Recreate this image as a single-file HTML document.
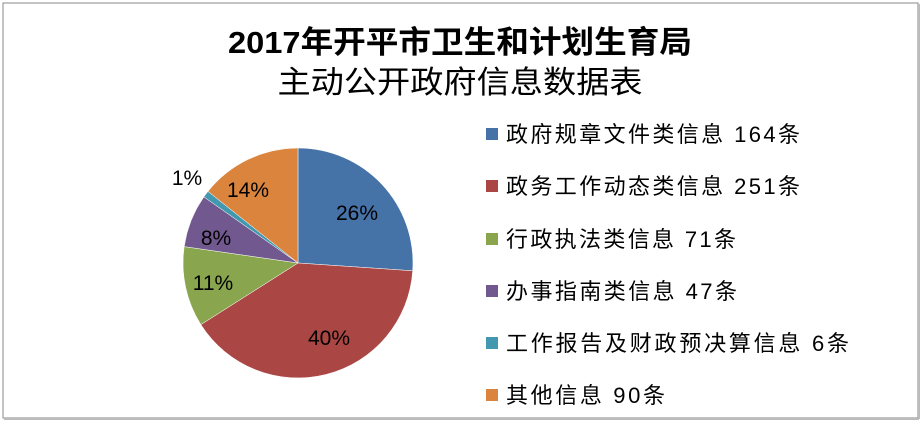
<!DOCTYPE html>
<html><head><meta charset="utf-8"><style>
body{margin:0;background:#fff;}
svg text{font-family:"Liberation Sans","Noto Sans CJK SC",sans-serif;}
</style></head><body>
<svg width="921" height="421" xmlns="http://www.w3.org/2000/svg">
<rect x="0" y="0" width="921" height="421" fill="#fff"/>
<rect x="3" y="3" width="915" height="415" fill="#fff" stroke="#888" stroke-width="1"/>
<line x1="4" y1="419" x2="919" y2="419" stroke="#bbb" stroke-width="2"/>
<line x1="919" y1="4" x2="919" y2="419" stroke="#bbb" stroke-width="2"/>
<text x="460" y="53" text-anchor="middle" font-size="31" font-weight="bold" fill="#000" textLength="464" lengthAdjust="spacingAndGlyphs">2017年开平市卫生和计划生育局</text>
<text x="460" y="93" text-anchor="middle" font-size="31" fill="#000" textLength="365" lengthAdjust="spacingAndGlyphs">主动公开政府信息数据表</text>
<g stroke="#fff" stroke-width="0.5">
<path d="M298,263 L298,148 A115,115 0 0 1 412.7,270.8 Z" fill="#4572A7"/>
<path d="M298,263 L412.7,270.8 A115,115 0 0 1 200.9,324.6 Z" fill="#AA4643"/>
<path d="M298,263 L200.9,324.6 A115,115 0 0 1 184.2,246.6 Z" fill="#89A54E"/>
<path d="M298,263 L184.2,246.6 A115,115 0 0 1 203.9,196.9 Z" fill="#71588F"/>
<path d="M298,263 L203.9,196.9 A115,115 0 0 1 208.0,191.4 Z" fill="#4198AF"/>
<path d="M298,263 L208.0,191.4 A115,115 0 0 1 298,148 Z" fill="#DB843D"/>
</g>
<g font-size="21" fill="#000" text-anchor="middle">
<text x="357" y="220">26%</text>
<text x="329" y="345">40%</text>
<text x="213" y="290">11%</text>
<text x="216" y="245">8%</text>
<text x="187" y="185">1%</text>
<text x="248" y="197">14%</text>
</g>
<g font-size="22" fill="#000" lengthAdjust="spacingAndGlyphs">
<rect x="486" y="128" width="12" height="12" fill="#4572A7"/><text x="506" y="142" textLength="294">政府规章文件类信息 164条</text>
<rect x="486" y="180" width="12" height="12" fill="#AA4643"/><text x="506" y="194" textLength="294">政务工作动态类信息 251条</text>
<rect x="486" y="233" width="12" height="12" fill="#89A54E"/><text x="506" y="247" textLength="230">行政执法类信息 71条</text>
<rect x="486" y="285" width="12" height="12" fill="#71588F"/><text x="506" y="299" textLength="231">办事指南类信息 47条</text>
<rect x="486" y="337" width="12" height="12" fill="#4198AF"/><text x="506" y="351" textLength="343">工作报告及财政预决算信息 6条</text>
<rect x="486" y="389" width="12" height="12" fill="#DB843D"/><text x="506" y="403" textLength="159">其他信息 90条</text>
</g>
</svg>
</body></html>
